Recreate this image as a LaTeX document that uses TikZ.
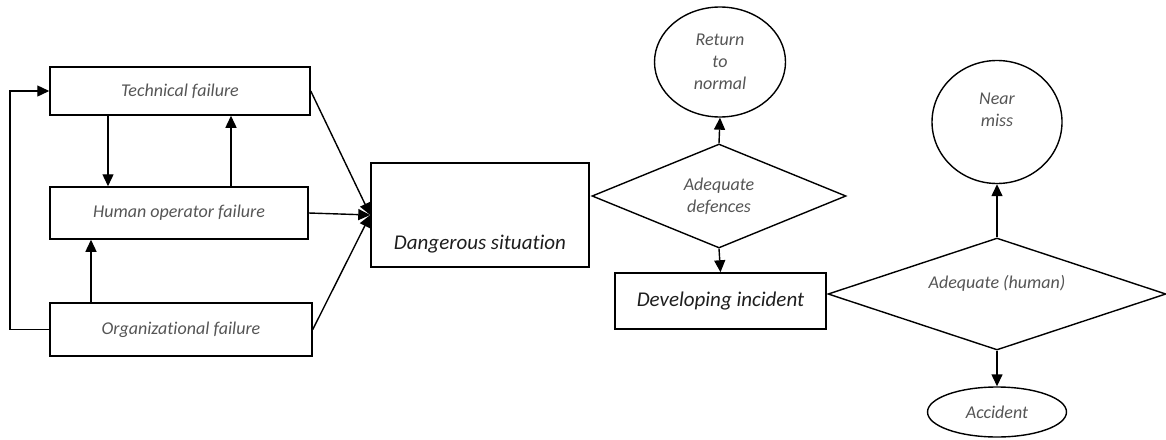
\documentclass[tikz,border=0pt]{standalone}
\usepackage{fontspec}
\setmainfont{Carlito}[Ligatures=NoCommon]
\usetikzlibrary{shapes.geometric,arrows.meta,calc}
\definecolor{lbl}{RGB}{85,85,85}
\definecolor{bigc}{RGB}{30,30,30}
\begin{document}
\begin{tikzpicture}[x=1pt,y=-1pt,
  box/.style={draw,line width=1.5pt,rectangle,inner sep=0pt},
  small/.style={font=\fontsize{18}{22}\selectfont\itshape,text=lbl,align=center},
  bigtxt/.style={font=\fontsize{21}{25}\selectfont\itshape,text=bigc},
  dia/.style={draw,line width=1.4pt,diamond,inner sep=0pt,shape aspect=2.5},
  ell/.style={draw,line width=1.4pt,ellipse,inner sep=0pt},
  arr/.style={line width=1.4pt,-{Triangle[length=12pt,width=11pt]}}]
\useasboundingbox (0,0) rectangle (1166,439);
% left boxes
\node[box,small,minimum width=260pt,minimum height=48pt] (tech) at (180,91) {Technical failure};
\node[box,small,minimum width=258pt,minimum height=52pt] (hum) at (179,213) {Human operator failure};
\node[box,small,minimum width=262pt,minimum height=53pt] (org) at (181,329.5) {Organizational failure};
% dangerous situation
\node[box,minimum width=218pt,minimum height=104pt,
  label={[bigtxt,anchor=base,yshift=18pt]south:Dangerous situation}] (dang) at (480,215) {};
% adequate defences
\node[dia,small,minimum width=254pt,minimum height=104pt] (def) at (719,196) {Adequate\\defences};
\node[ell,small,minimum width=131pt,minimum height=110pt] (ret) at (720,62) {Return\\to\\normal};
\node[box,bigtxt,minimum width=211pt,minimum height=56pt] (dev) at (720.5,301) {Developing incident};
% adequate human
\node[dia,minimum width=338pt,minimum height=112pt,
  label={[small,yshift=11pt]center:Adequate (human)}] (hdia) at (997,294) {};
\node[ell,minimum width=130pt,minimum height=123pt,
  label={[small,yshift=12pt]center:Near\\miss}] (near) at (997,122) {};
\node[ell,small,minimum width=139pt,minimum height=50pt] (acc) at (997,412) {Accident};
% helper coordinates
\coordinate (xa) at (108,0);
\coordinate (xb) at (231,0);
\coordinate (xc) at (91,0);
\coordinate (xl) at (10,0);
% connectors
\draw[arr] (tech.south -| xa) -- (hum.north -| xa);
\draw[arr] (hum.north -| xb) -- (tech.south -| xb);
\draw[arr] (org.north -| xc) -- (hum.south -| xc);
\draw[arr] (org.west) -- (org.west -| xl) |- (tech.west);
\draw[arr] (tech.east) -- (dang.west);
\draw[arr] (hum.east) -- (dang.west);
\draw[arr] (org.east) -- (dang.west);
\draw[arr] (def.north) -- (ret.south);
\draw[arr] (def.south) -- (dev.north);
\draw[arr] (hdia.north) -- (near.south);
\draw[arr] (hdia.south) -- (acc.north);
\end{tikzpicture}
\end{document}
